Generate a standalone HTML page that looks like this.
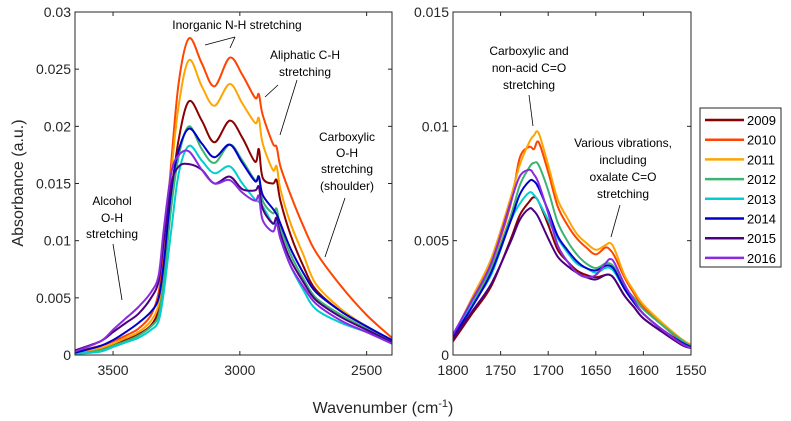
<!DOCTYPE html>
<html><head><meta charset="utf-8"><style>
body{margin:0;background:#fff;}
svg{display:block;font-family:"Liberation Sans",sans-serif;}
</style></head><body>
<svg id="chart" width="791" height="421" viewBox="0 0 791 421" xmlns="http://www.w3.org/2000/svg"></svg>
<script>
const years = ["2009","2010","2011","2012","2013","2014","2015","2016"];
const colors = ["#8b0000","#ff4500","#ffa500","#3cb371","#00ced1","#0000cd","#4b0082","#8a2be2"];
// Left panel (x1e-3 absorbance)
const leftWn = [3650,3550,3500,3450,3400,3350,3320,3300,3270,3240,3200,3150,3100,3040,2990,2940,2925,2910,2870,2855,2840,2800,2750,2700,2600,2500,2400];
const left2009 = [0.2,0.5,0.9,1.3,1.8,2.6,4,7,14,19,22.2,20.5,18.6,20.5,19,16.9,18,15.5,15,15.3,13.5,10.5,7.8,5.7,3.8,2.5,1.2];
const left2010 = [0.3,0.8,1.2,1.7,2.3,3.5,5.5,9,17,24,27.7,25.5,23.5,26,24.5,22.5,22.8,21,18.5,18.2,16.5,14,11.3,9,6,3.5,1.5];
const left2011 = [0.2,0.6,1,1.5,2,3,4.5,8,16,22,25.8,23.5,21.8,23.7,22,20.3,20.7,18.5,16.2,16.5,14.5,11.5,8.8,6.2,4,2.5,1.3];
const left2012 = [0.1,0.4,0.8,1.2,1.7,2.5,3.5,6.5,13,17.5,20,18,16.8,18.4,17,15.3,15.6,13.5,12.4,12.8,11.2,8.8,6.7,5,3.5,2.3,1.2];
const left2013 = [0.1,0.3,0.7,1.1,1.5,2.2,3,5.5,11,16,18.3,17,15.9,16.5,15,13.6,13.4,13,11.5,11.8,10.2,7.8,5.7,4,2.8,2,1];
const left2014 = [0.2,0.8,1.3,2,2.8,3.8,5,8,14.5,18,19.8,18.5,17.3,18.4,16.8,15.2,15.6,14,12.8,12.3,11.5,9.3,7.2,5.5,3.8,2.5,1.3];
const left2015 = [0.4,1.2,2,2.8,3.6,5,6.5,10,15,16.5,16.7,16.2,15,15.6,14.5,14.4,14.7,12.8,11.5,12,10.6,8.3,6.4,4.8,3.3,2.2,1.1];
const left2016 = [0.3,1.2,2.2,3.2,4.2,5.5,7,11,16,17.5,17.8,16.2,15,15.3,14.2,13.5,13.9,11.8,10.8,11.5,10.2,7.8,6,4.5,3,2,1];
// Right panel
const rightWn = [1800,1780,1760,1740,1730,1720,1715,1710,1700,1690,1680,1670,1660,1650,1640,1635,1630,1620,1610,1600,1580,1560,1550];
const right2009 = [0.6,1.8,3,5,6.1,6.7,6.9,6.7,5.7,4.6,4.1,3.7,3.5,3.4,3.5,3.5,3.3,2.6,2.1,1.6,1,0.45,0.3];
const right2010 = [0.8,2.3,4,6.5,8.6,9.1,9.0,9.3,8,6.5,5.7,5.1,4.7,4.4,4.7,4.6,4.3,3.4,2.7,2.1,1.3,0.6,0.4];
const right2011 = [0.8,2.5,4.2,6.8,8.3,9.3,9.6,9.7,8.3,6.8,6,5.3,4.9,4.6,4.8,4.9,4.6,3.5,2.8,2.2,1.4,0.7,0.45];
const right2012 = [0.8,2.2,3.8,6,7.4,8.2,8.4,8.3,7.2,5.8,5,4.4,4,3.8,4,4,3.8,3,2.5,2,1.3,0.65,0.4];
const right2013 = [0.8,2.2,3.5,5.8,6.6,7.1,7.0,6.7,5.9,5.1,4.5,4,3.8,3.6,3.8,3.8,3.6,2.9,2.3,1.8,1.1,0.55,0.35];
const right2014 = [0.8,2.1,3.6,5.8,7,7.6,7.6,7.3,6.3,5.2,4.6,4.1,3.8,3.7,3.9,3.9,3.7,2.9,2.3,1.8,1.1,0.55,0.35];
const right2015 = [0.7,1.9,3.1,4.9,5.9,6.4,6.3,6,5.1,4.3,3.9,3.6,3.4,3.3,3.5,3.5,3.3,2.6,2.1,1.6,1,0.45,0.3];
const right2016 = [0.9,2.4,4,6.6,7.8,8.1,7.9,7.5,6.2,4.8,4.1,3.6,3.4,3.5,4,4.2,4,3.1,2.4,1.8,1.1,0.5,0.3];
const leftYTicks = ["0","0.005","0.01","0.015","0.02","0.025","0.03"];
const leftXTicks = ["3500","3000","2500"];
const rightYTicks = ["0","0.005","0.01","0.015"];
const rightXTicks = ["1800","1750","1700","1650","1600","1550"];

const leftSeries=[left2009,left2010,left2011,left2012,left2013,left2014,left2015,left2016];
const rightSeries=[right2009,right2010,right2011,right2012,right2013,right2014,right2015,right2016];
const NS="http://www.w3.org/2000/svg";
const svg=document.getElementById('chart');
function mk(tag,attrs,parent){const e=document.createElementNS(NS,tag);for(const k in attrs)e.setAttribute(k,attrs[k]);(parent||svg).appendChild(e);return e;}
const L={x0:75,x1:392,y0:12,y1:355,wmin:3650,wmax:2400,ymax:30};
const R={x0:453,x1:691,y0:12,y1:355,wmin:1800,wmax:1550,ymax:15};
function sx(p,w){return p.x0+(w-p.wmin)/(p.wmax-p.wmin)*(p.x1-p.x0);}
function sy(p,v){return p.y1-v/p.ymax*(p.y1-p.y0);}
function smooth(pts){let d="M"+pts[0][0].toFixed(1)+","+pts[0][1].toFixed(1);
 for(let i=0;i<pts.length-1;i++){const p0=pts[i-1]||pts[i],p1=pts[i],p2=pts[i+1],p3=pts[i+2]||p2;
 const c1=[p1[0]+(p2[0]-p0[0])/6,p1[1]+(p2[1]-p0[1])/6],c2=[p2[0]-(p3[0]-p1[0])/6,p2[1]-(p3[1]-p1[1])/6];
 d+=" C"+c1.map(v=>v.toFixed(1))+" "+c2.map(v=>v.toFixed(1))+" "+p2.map(v=>v.toFixed(1));}return d;}
function panel(p,wn,series,yt,xt,name){
 const g=mk('g',{});
 
 
 const cp=mk('clipPath',{id:name+'-clip'},g);mk('rect',{x:p.x0,y:p.y0,width:p.x1-p.x0,height:p.y1-p.y0},cp);
 const lg=mk('g',{'clip-path':'url(#'+name+'-clip)'},g);
 series.forEach((s,i)=>{const pts=wn.map((w,j)=>[sx(p,w),sy(p,s[j])]);
  const path=mk('path',{d:smooth(pts),fill:'none',stroke:colors[i],'stroke-width':2},lg);
  
  });
 const box=mk('rect',{x:p.x0,y:p.y0,width:p.x1-p.x0,height:p.y1-p.y0,fill:'none',stroke:'#262626','stroke-width':1},g);
 
 
 yt.forEach(t=>{const y=sy(p,parseFloat(t)*1000);
  mk('line',{x1:p.x0,x2:p.x0+4,y1:y,y2:y,stroke:'#262626'},g);mk('line',{x1:p.x1,x2:p.x1-4,y1:y,y2:y,stroke:'#262626'},g);
  const tx=mk('text',{x:p.x0-4,y:y+5,'text-anchor':'end','font-size':14,fill:'#262626'},g);tx.textContent=t;
  
  });
 xt.forEach(t=>{const x=sx(p,parseFloat(t));
  mk('line',{x1:x,x2:x,y1:p.y1,y2:p.y1-4,stroke:'#262626'},g);mk('line',{x1:x,x2:x,y1:p.y0,y2:p.y0+4,stroke:'#262626'},g);
  const tx=mk('text',{x:x,y:p.y1+20,'text-anchor':'middle','font-size':14,fill:'#262626'},g);tx.textContent=t;
  
  });
}
panel(L,leftWn,leftSeries,leftYTicks,leftXTicks,'left-panel');
panel(R,rightWn,rightSeries,rightYTicks,rightXTicks,'right-panel');
// legend
const lgd=mk('g',{});


mk('rect',{x:700,y:108,width:81,height:159,fill:'#fff',stroke:'#262626'},lgd);
years.forEach((y,i)=>{const yy=120+i*19.7;
 const e=mk('g',{},lgd);
 
 
 mk('line',{x1:705,x2:744,y1:yy,y2:yy,stroke:colors[i],'stroke-width':2.5},e);
 const t=mk('text',{x:747,y:yy+5,'font-size':13,fill:'#000'},e);t.textContent=y;});
// annotations
const notes=[
 [237,[29],["Inorganic N-H stretching"],[[235,37,205,45],[235,37,230,48]]],
 [305,[59,76],["Aliphatic C-H","stretching"],[[278,85,265,97],[297,80,280,135]]],
 [347,[141,157,173,190],["Carboxylic","O-H","stretching","(shoulder)"],[[345,198,325,257]]],
 [112,[205,222,238],["Alcohol","O-H","stretching"],[[113,244,122,300]]],
 [529,[55,72,89],["Carboxylic and","non-acid C=O","stretching"],[[529,95,533,126]]],
 [623,[147,164,181,198],["Various vibrations,","including","oxalate C=O","stretching"],[[620,205,611,237]]]
];
notes.forEach((n,k)=>{const g=mk('g',{});
 
 
 n[2].forEach((s,i)=>{const t=mk('text',{x:n[0],y:n[1][i],'text-anchor':'middle','font-size':12,fill:'#000'},g);t.textContent=s;});
 n[3].forEach(l=>mk('line',{x1:l[0],y1:l[1],x2:l[2],y2:l[3],stroke:'#000','stroke-width':0.8},g));});
const yl=mk('text',{x:0,y:0,transform:'translate(23,183) rotate(-90)','text-anchor':'middle','font-size':16,fill:'#262626'});
yl.textContent='Absorbance (a.u.)';


const xl=mk('text',{x:383,y:413,'text-anchor':'middle','font-size':16,fill:'#262626'});
xl.innerHTML='Wavenumber (cm<tspan dy="-6" font-size="11">-1</tspan><tspan dy="6">)</tspan>';


</script>
</body></html>
